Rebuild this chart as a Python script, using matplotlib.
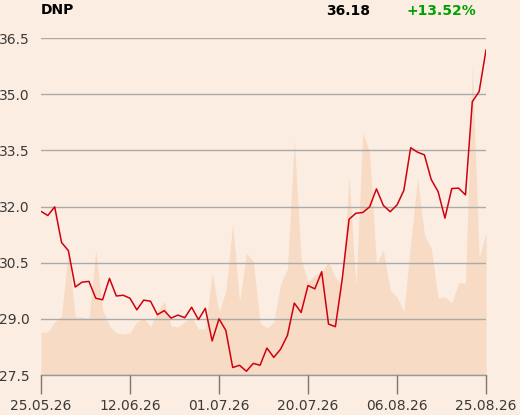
import matplotlib
matplotlib.use("Agg")
import matplotlib.pyplot as plt

prices = [31.87, 31.76, 31.99, 31.04, 30.82, 29.85, 29.98, 30.00, 29.55, 29.51,
          30.08, 29.61, 29.63, 29.55, 29.24, 29.50, 29.47, 29.11, 29.22, 29.02,
          29.10, 29.03, 29.31, 28.98, 29.28, 28.41, 29.00, 28.69, 27.70, 27.76,
          27.60, 27.81, 27.76, 28.22, 27.97, 28.19, 28.56, 29.42, 29.17, 29.89,
          29.80, 30.26, 28.86, 28.79, 30.06, 31.66, 31.82, 31.84, 31.99, 32.47,
          32.03, 31.86, 32.04, 32.43, 33.57, 33.45, 33.38, 32.72, 32.40, 31.69,
          32.48, 32.49, 32.31, 34.80, 35.07, 36.18]

volumes = [43, 43, 53, 59, 123, 58, 58, 56, 124, 65,
           49, 42, 41, 42, 53, 57, 48, 63, 74, 49,
           48, 53, 58, 46, 46, 102, 63, 84, 151, 73,
           122, 114, 52, 47, 53, 91, 106, 235, 115, 93,
           100, 103, 113, 98, 89, 198, 88, 242, 223, 110,
           125, 85, 78, 63, 132, 197, 140, 127, 77, 78,
           72, 92, 92, 309, 117, 142]

y_ticks = [27.5, 29.0, 30.5, 32.0, 33.5, 35.0, 36.5]
x_labels = ["25.05.26", "12.06.26", "01.07.26", "20.07.26", "06.08.26", "25.08.26"]

ticker = "DNP"
last_price = "36.18"
change = "+13.52%"

bg = "#FBEDE1"
fill_c = "#F7DBC5"
line_c = "#D0000F"
grid_c = "#AAAAAA"
text_c = "#3A3A3A"

fig = plt.figure(figsize=(5.2, 4.15), dpi=100, facecolor=bg)
ax = fig.add_axes([41/520, 40/415, 445/520, 337/415])
ax2 = ax.twinx()
ax.set_zorder(ax2.get_zorder() + 1)
ax.patch.set_visible(False)
ax2.set_facecolor(bg)

n = len(prices)
xs = list(range(n))

ax2.fill_between(xs, volumes, 0, color=fill_c, linewidth=0)
ax2.set_ylim(0, 337)
ax2.set_yticks([])
for s in ax2.spines.values():
    s.set_visible(False)

ax.plot(xs, prices, color=line_c, linewidth=1.1, zorder=3)
ax.set_xlim(0, n - 1)
ax.set_ylim(27.5, 36.5)
ax.set_yticks(y_ticks)
ax.set_yticklabels([f"{v:.1f}" for v in y_ticks])
ax.yaxis.grid(True, color=grid_c, linewidth=1.0)
ax.set_axisbelow(False)

tick_pos = [round(i * (n - 1) / (len(x_labels) - 1)) for i in range(len(x_labels))]
ax.set_xticks(tick_pos)
ax.set_xticklabels(x_labels)

ax.tick_params(axis="y", length=0, pad=8, labelsize=10, labelcolor=text_c)
ax.tick_params(axis="x", length=14, width=1, color="#777777", pad=3, labelsize=10, labelcolor=text_c)

for k in ["top", "right", "left"]:
    ax.spines[k].set_visible(False)
ax.spines["bottom"].set_color("#999999")
ax.spines["bottom"].set_linewidth(1.0)

fig.text(41/520, 1 - 10/415, ticker, fontsize=10, fontweight="bold", color="#000000", va="center", ha="left")
fig.text(370/520, 1 - 11/415, last_price, fontsize=10, fontweight="bold", color="#000000", va="center", ha="right")
fig.text(476/520, 1 - 11/415, change, fontsize=10, fontweight="bold", color="#00A000", va="center", ha="right")

fig.savefig("out.png", dpi=100, facecolor=bg)
